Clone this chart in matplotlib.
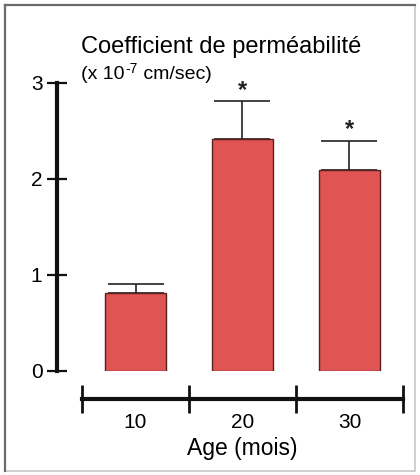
import matplotlib
matplotlib.use("Agg")
import matplotlib.pyplot as plt
from matplotlib.patches import Rectangle
from matplotlib.transforms import offset_copy

# data
ages = ["10", "20", "30"]
values = [0.81, 2.42, 2.09]
errors = [0.10, 0.39, 0.31]
signif = ["", "*", "*"]

plt.rcParams["font.family"] = ["Liberation Sans", "DejaVu Sans"]

W, H = 420, 475
fig = plt.figure(figsize=(W / 100, H / 100), dpi=100)

# frame around the whole figure
fig.patches.append(Rectangle((5 / W, 4 / H), 410 / W, 466 / H, transform=fig.transFigure,
                             fill=False, edgecolor="#c8c8c8", linewidth=1.2))
fig.add_artist(plt.Line2D([5 / W, 5 / W], [4 / H, 470 / H], color="#6a6a6a", lw=1.6))
fig.add_artist(plt.Line2D([5 / W, 415 / W], [470 / H, 470 / H], color="#6a6a6a", lw=1.6))

ax = fig.add_axes([82 / W, (H - 371) / H, 321 / W, 288 / H])
x = range(len(ages))
ax.bar(x, values, width=0.57, color="#e05454", edgecolor="#5a2020", linewidth=1.0, zorder=2)
ax.errorbar(x, values, yerr=[[0] * len(errors), errors], fmt="none", ecolor="#222222",
            elinewidth=1.2, capsize=20, capthick=1.2, zorder=1)
for xi, v, e, s in zip(x, values, errors, signif):
    if s:
        ax.annotate(s, (xi, v + e), xytext=(0, 8), textcoords="offset points",
                    ha="center", va="center", fontsize=17, fontweight="bold", color="#222222")

ax.set_xlim(-0.5, 2.5)
ax.set_ylim(0, 3)

for side in ["top", "right"]:
    ax.spines[side].set_visible(False)
ax.spines["left"].set_position(("outward", 18))
ax.spines["bottom"].set_position(("outward", 20))
ax.spines["left"].set_linewidth(3)
ax.spines["bottom"].set_linewidth(3)
ax.spines["left"].set_color("#111111")
ax.spines["bottom"].set_color("#111111")

ax.set_yticks([0, 1, 2, 3])
ax.tick_params(axis="y", direction="inout", length=15, width=1.6, labelsize=15, pad=3,
               color="#111111")

ax.set_xticks([-0.5, 0.5, 1.5, 2.5])
ax.set_xticklabels([])
ax.set_xticks(list(x), minor=True)
ax.set_xticklabels(ages, minor=True)
ax.tick_params(axis="x", which="major", direction="inout", length=20, width=2, color="#111111")
ax.tick_params(axis="x", which="minor", length=0, labelsize=15, pad=10)
ax.set_xlabel("Age (mois)", fontsize=16.5, labelpad=4)

fig.text(81 / W, 1 - 47 / H, "Coefficient de perméabilité", fontsize=17, va="center", ha="left")

# unit line: "(x 10" + raised "-7" + " cm/sec)"
fig.canvas.draw()
r = fig.canvas.get_renderer()
t1 = fig.text(81 / W, 1 - 79 / H, "(x 10", fontsize=14, va="baseline", ha="left")
w1 = t1.get_window_extent(r).width
t2 = fig.text(81 / W, 1 - 79 / H, "-7", fontsize=10,
              transform=offset_copy(fig.transFigure, fig, x=w1 + 1, y=6, units="dots"),
              va="baseline", ha="left")
w2 = t2.get_window_extent(r).width
fig.text(81 / W, 1 - 79 / H, " cm/sec)", fontsize=14,
         transform=offset_copy(fig.transFigure, fig, x=w1 + w2 + 1, y=0, units="dots"),
         va="baseline", ha="left")

fig.savefig("out.png", dpi=100)
